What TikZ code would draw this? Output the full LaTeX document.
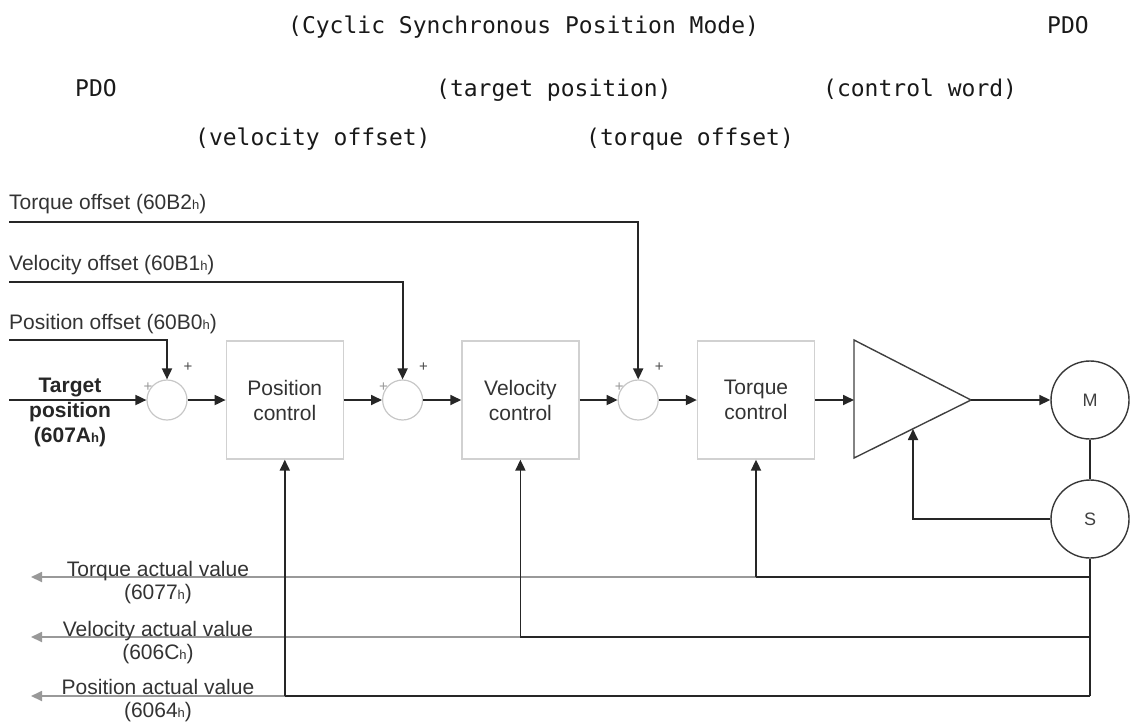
\documentclass[tikz,border=0pt]{standalone}
\usepackage{fontspec}
\setmainfont{Liberation Sans}
\newfontfamily\notefont{DejaVu Sans Mono}
\usetikzlibrary{arrows.meta,positioning}
% small h for hex register numbers
\newcommand\hsub{{\fontsize{13}{13}\selectfont h}}
\tikzset{>={Triangle[length=11pt,width=10pt]}}
\tikzset{
    note/.style={anchor=base west,inner sep=0pt,text=black!90,
        font=\notefont\fontsize{23}{23}\selectfont},
    lbl/.style={anchor=base west,inner sep=0pt,text=black!80,
        font=\fontsize{21}{25}\selectfont},
    fblbl/.style={anchor=north,inner sep=0pt,align=center,text=black!80,
        font=\fontsize{21}{23}\selectfont},
    sumpt/.style={circle,draw=black!22,line width=1.2pt,minimum size=40pt,inner sep=0pt},
    ctrlbox/.style={rectangle,draw=black!18,line width=1.3pt,minimum width=117pt,
        minimum height=118pt,align=center,text=black!80,inner sep=0pt,
        font=\fontsize{21}{25}\selectfont},
    machine/.style={circle,draw=black!78,line width=1.4pt,minimum size=78pt,inner sep=0pt,
        text=black!75,font=\fontsize{18}{18}\selectfont},
    plus/.style={inner sep=0pt,font=\fontsize{15}{15}\selectfont,text=black!70},
    wire/.style={draw=black!85,line width=1.8pt},
    sig/.style={wire,->},
    fbgray/.style={draw=black!40,line width=1.8pt,->}
}

\begin{document}
\begin{tikzpicture}[x=1pt,y=-1pt,node distance=117.8pt]
\useasboundingbox (0,0) rectangle (1132,724);

% heading text
\node[note] (hd1) at (288,33) {(Cyclic Synchronous Position Mode)};
\node[note] (hd2) at (1047,33) {PDO};
\node[note] (hd3) at (75,96) {PDO};
\node[note] (hd4) at (436,96) {(target position)};
\node[note] (hd5) at (823,96) {(control word)};
\node[note] (hd6) at (195,145) {(velocity offset)};
\node[note] (hd7) at (586,145) {(torque offset)};

% offset inputs
\coordinate (tqo) at (9,222);
\coordinate (vlo) at (9,282);
\coordinate (pso) at (9,340);
\coordinate (tgt) at (9,400);
\node[lbl] (tqol) at (9,209) {Torque offset (60B2\hsub)};
\node[lbl] (vlol) at (9,270) {Velocity offset (60B1\hsub)};
\node[lbl] (psol) at (9,329) {Position offset (60B0\hsub)};
\node[fblbl,font=\bfseries\fontsize{21}{25}\selectfont,text=black!85] (tgtl) at (70,378)
    {Target\\position\\(607A\hsub)};

% forward path
\node[sumpt] (sum1) at (167,400) {};
\node[ctrlbox,right of=sum1] (posctrl) {Position\\control};
\node[sumpt,right of=posctrl] (sum2) {};
\node[ctrlbox,right of=sum2] (velctrl) {Velocity\\control};
\node[sumpt,right of=velctrl] (sum3) {};
\node[ctrlbox,right of=sum3] (trqctrl) {Torque\\control};

\foreach \s in {1,2,3} {
    \node[plus] (pu\s) at ([shift={(21,-33)}]sum\s) {+};
    \node[plus,text=black!40] (pl\s) at ([shift={(-19,-13)}]sum\s) {+};
}

% amplifier
\draw[draw=black!75,line width=1.4pt] (854,340) coordinate (ampt) -- (971,400) coordinate (ampout)
    -- (854,458) coordinate (ampb) -- cycle;
\coordinate (ampin) at (854,400);
\coordinate (ampfb) at (913,429);

\node[machine] (motor) at (1090,400) {M};
\node[machine] (sensor) at (1090,519) {S};

\draw[sig] (tqo) -| (sum3);
\draw[sig] (vlo) -| (sum2);
\draw[sig] (pso) -| (sum1);
\draw[sig] (tgt) -- (sum1);
\draw[sig] (sum1) -- (posctrl);
\draw[sig] (posctrl) -- (sum2);
\draw[sig] (sum2) -- (velctrl);
\draw[sig] (velctrl) -- (sum3);
\draw[sig] (sum3) -- (trqctrl);
\draw[sig] (trqctrl) -- (ampin);
\draw[sig] (ampout) -- (motor);
\draw[wire] (motor) -- (sensor);
\draw[sig] (sensor) -| (ampfb);

% feedback
\coordinate (tq) at (1090,577);
\coordinate (vl) at (1090,637);
\coordinate (ps) at (1090,696);
\coordinate (tqb) at (trqctrl |- tq);
\coordinate (vlb) at (velctrl |- vl);
\coordinate (psb) at (posctrl |- ps);
\coordinate (tqe) at (31,577);
\coordinate (vle) at (31,637);
\coordinate (pse) at (31,696);

\draw[fbgray] (tqb) -- (tqe);
\draw[fbgray] (vlb) -- (vle);
\draw[fbgray] (psb) -- (pse);

\draw[wire] (sensor) -- (ps);
\draw[wire] (tq) -- (tqb);
\draw[wire] (vl) -- (vlb);
\draw[wire] (ps) -- (psb);
\draw[sig] (tqb) -- (trqctrl);
\draw[sig] (vlb) -- (velctrl);
\draw[sig] (psb) -- (posctrl);

\node[fblbl] (tqal) at (158,561) {Torque actual value\\(6077\hsub)};
\node[fblbl] (vlal) at (158,621) {Velocity actual value\\(606C\hsub)};
\node[fblbl] (psal) at (158,679) {Position actual value\\(6064\hsub)};
\end{tikzpicture}
\end{document}
